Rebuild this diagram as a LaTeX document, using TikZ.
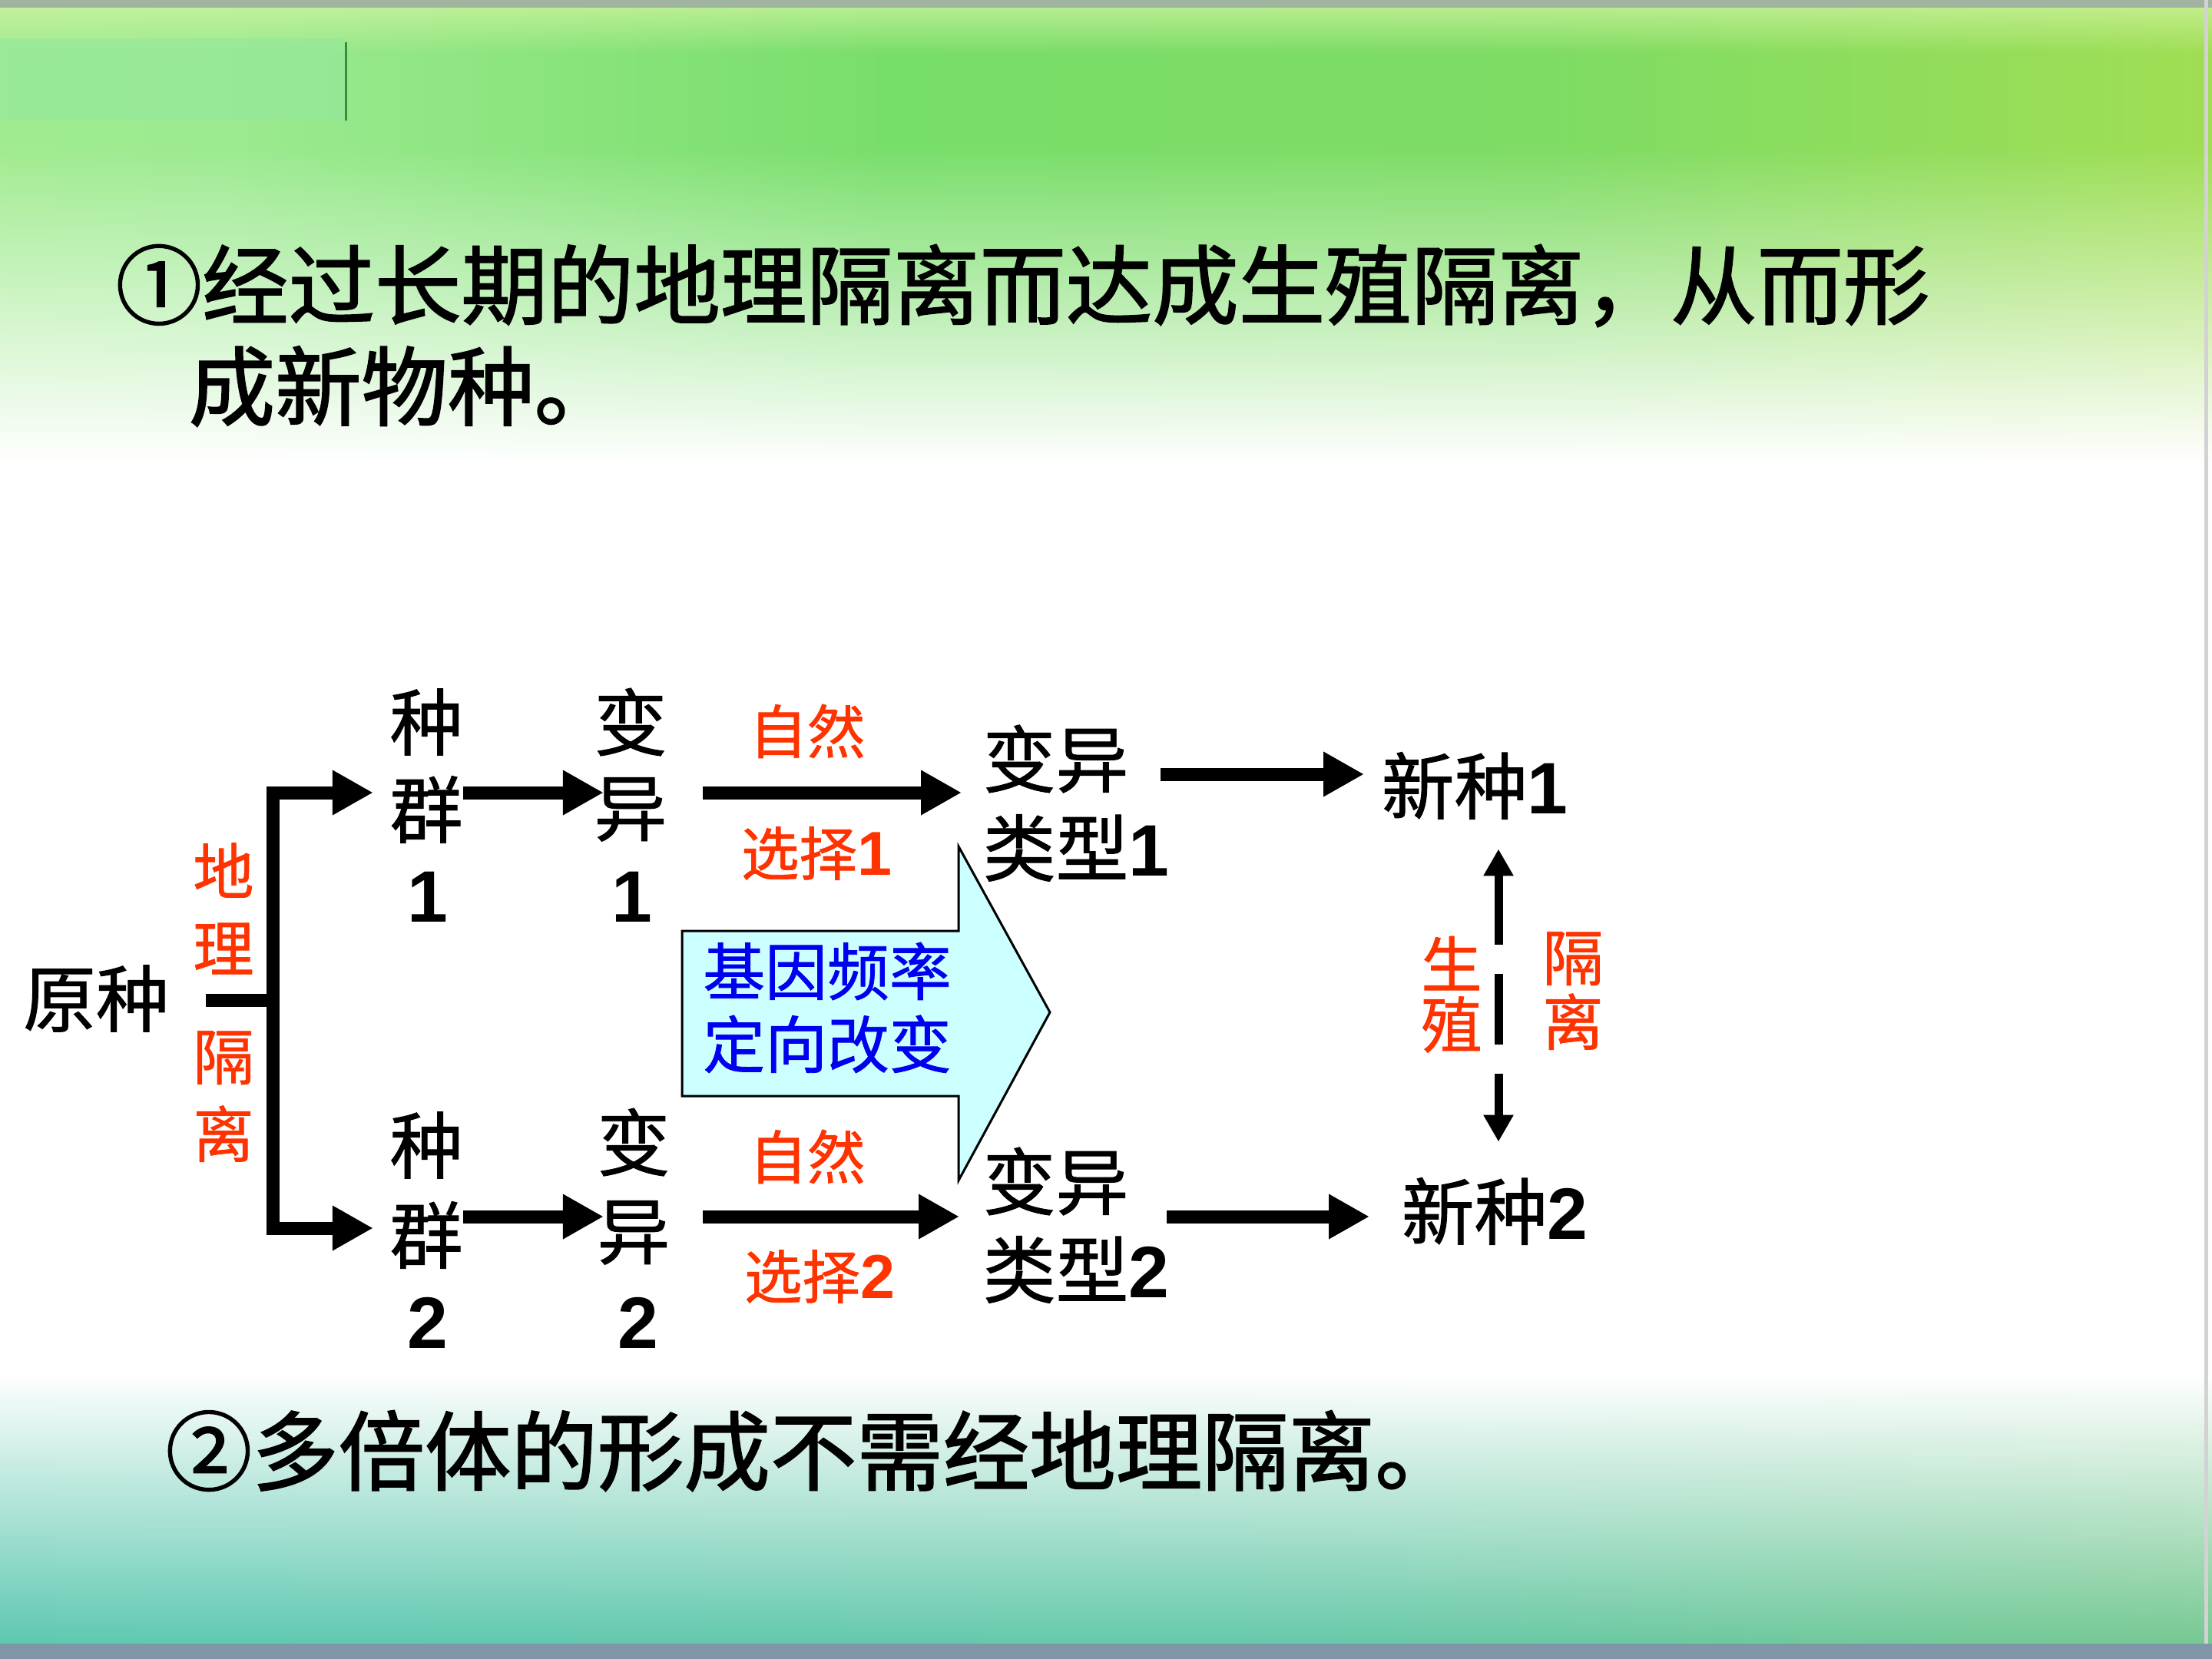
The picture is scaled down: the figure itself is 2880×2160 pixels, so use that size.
\documentclass[tikz,border=0pt]{standalone}
\usepackage{fontspec}
\usetikzlibrary{arrows.meta,fadings}
\newfontfamily\cjk{Noto Sans CJK SC}[FakeBold=1.0]
\newfontfamily\cjkt{Noto Sans CJK SC}[FakeBold=1.6]
\newfontfamily\arialf{Liberation Sans}
\definecolor{redt}{RGB}{255,51,0}
\definecolor{bluet}{RGB}{0,0,240}
\definecolor{cyanf}{RGB}{204,255,255}
\definecolor{tA}{RGB}{184,240,136}
\definecolor{tB}{RGB}{170,238,142}
\definecolor{tC}{RGB}{156,234,144}
\definecolor{tD}{RGB}{120,222,106}
\definecolor{tE}{RGB}{126,220,100}
\definecolor{tF}{RGB}{160,222,84}
\definecolor{tG}{RGB}{190,224,64}
\definecolor{tH}{RGB}{198,230,80}
\definecolor{bA}{RGB}{88,196,168}
\definecolor{bB}{RGB}{92,200,176}
\definecolor{bC}{RGB}{100,200,168}
\definecolor{bD}{RGB}{116,200,144}
\definecolor{bE}{RGB}{128,204,112}
\definecolor{bF}{RGB}{116,200,100}
\definecolor{rectg}{RGB}{148,232,156}
\definecolor{lineg}{RGB}{60,140,60}
\definecolor{topstrip}{RGB}{160,180,160}
\definecolor{botstrip}{RGB}{126,150,166}
\definecolor{lightband}{RGB}{208,244,160}
\pgfdeclarehorizontalshading{topbg}{100bp}{color(0bp)=(tA); color(15bp)=(tB); color(30bp)=(tC); color(45bp)=(tD); color(60bp)=(tE); color(75bp)=(tF); color(88bp)=(tG); color(100bp)=(tH)}
\pgfdeclarehorizontalshading{botbg}{100bp}{color(0bp)=(bA); color(30bp)=(bB); color(55bp)=(bC); color(75bp)=(bD); color(90bp)=(bE); color(100bp)=(bF)}
\tikzfading[name=fadedown, top color=transparent!100, bottom color=transparent!0]
\tikzfading[name=fadeup, top color=transparent!0, bottom color=transparent!100]
\tikzset{
  blk/.style={font=\cjk\fontsize{27}{30}\selectfont, inner sep=0pt, text=black},
  num/.style={font=\arialf\bfseries\fontsize{27}{30}\selectfont, inner sep=0pt, text=black},
  redlab/.style={font=\cjk\fontsize{21.5}{25}\selectfont, inner sep=0pt, text=redt},
  redcol/.style={font=\cjk\fontsize{22.5}{25}\selectfont, inner sep=0pt, text=redt},
  bluelab/.style={font=\cjk\fontsize{23}{27}\selectfont, inner sep=0pt, text=bluet, align=center},
  titletext/.style={font=\cjkt\fontsize{32}{36}\selectfont, inner sep=0pt, anchor=west},
  arr/.style={line width=1.7mm, line join=miter, -{Triangle[length=5.3mm,width=5.5mm]}},
  thk/.style={line width=1.7mm},
  dblarr/.style={line width=1.1mm, dash pattern=on 9.2mm off 3.8mm,
     {Triangle[length=3.5mm,width=3.7mm]}-{Triangle[length=3.5mm,width=3.7mm]}},
}
\begin{document}
\begin{tikzpicture}[x=0.1mm,y=-0.1mm]
\useasboundingbox (0,0) rectangle (2880,2160);
% ---------- background ----------
\fill[white] (0,0) rectangle (2880,2160);
\fill[shading=topbg] (0,0) rectangle (2880,600);
\fill[lightband, path fading=fadeup, opacity=0.7] (0,10) rectangle (2880,70);
\fill[rectg, opacity=0.6] (0,50) rectangle (450,157);
\draw[lineg, line width=0.3mm] (450,55) -- (450,157);
\fill[white, path fading=fadedown] (0,190) rectangle (2880,602);
\fill[topstrip] (0,0) rectangle (2880,10);
\fill[shading=botbg] (0,1790) rectangle (2880,2145);
\fill[white, path fading=fadeup] (0,1789) rectangle (2880,2146);
\fill[botstrip] (0,2140) rectangle (2880,2160);
\draw[gray!35, line width=0.5mm] (2872,0) -- (2872,2140);
% ---------- titles ----------
\node[titletext] (t1) at (150,372) {①经过长期的地理隔离而达成生殖隔离，从而形};
\node[titletext] (t2) at (245,503) {成新物种。};
\node[titletext] (t3) at (215,1889) {②多倍体的形成不需经地理隔离。};
% ---------- diagram nodes ----------
\node[blk] (yuan) at (125,1300) {原种};
\node[redcol] (di) at (291,1133) {地};
\node[redcol] (li) at (291,1235) {理};
\node[redcol] (ge) at (291,1377) {隔};
\node[redcol] (lii) at (291,1476) {离};
\node[blk] (z1) at (555,940) {种};
\node[blk] (q1) at (555,1054) {群};
\node[num] (n1) at (557,1168) {1};
\node[blk] (b1) at (821,940) {变};
\node[blk] (y1) at (821,1054) {异};
\node[num] (m1) at (823,1168) {1};
\node[redlab] (zr1) at (1051,952) {自然};
\node[redlab] (sel1) at (1063,1111) {选择{\arialf\bfseries\fontsize{23}{25}\selectfont 1}};
\node[blk, anchor=west] (vt1) at (1279,988) {变异};
\node[blk, anchor=west] (lt1) at (1279,1104) {类型{\arialf\bfseries 1}};
\node[blk, anchor=west] (xin1) at (1798,1023) {新种{\arialf\bfseries 1}};
\node[blk] (z2) at (555,1491) {种};
\node[blk] (q2) at (555,1608) {群};
\node[num] (n2) at (557,1722) {2};
\node[blk] (b2) at (825,1487) {变};
\node[blk] (y2) at (825,1605) {异};
\node[num] (m2) at (831,1722) {2};
\node[redlab] (zr2) at (1051,1506) {自然};
\node[redlab] (sel2) at (1067,1662) {选择{\arialf\bfseries\fontsize{23}{25}\selectfont 2}};
\node[blk, anchor=west] (vb2) at (1279,1538) {变异};
\node[blk, anchor=west] (lb2) at (1279,1653) {类型{\arialf\bfseries 2}};
\node[blk, anchor=west] (xin2) at (1824,1577) {新种{\arialf\bfseries 2}};
\node[redcol] (sz) at (1890,1254) {生};
\node[redcol] (zh) at (1890,1334) {殖};
\node[redcol] (gl) at (2048,1248) {隔};
\node[redcol] (ll) at (2048,1330) {离};
% ---------- big block arrow ----------
\draw[fill=cyanf, line width=0.3mm, line join=miter] (888,1212) -- (1248,1212) -- (1248,1102) -- (1367,1318) -- (1248,1537) -- (1248,1427) -- (888,1427) -- cycle;
\node[bluelab] (gene) at (1077,1312) {基因频率\\定向改变};
% ---------- connectors ----------
\coordinate (split) at (355,1302);
\coordinate (bt) at (355,1032);
\coordinate (bb) at (355,1599);
\coordinate (r1) at (0,1008);
\coordinate (rb) at (0,1584);
\coordinate (rx) at (1951,0);
\draw[thk, shorten <=4.7mm] (yuan.east |- split) -- (split);
\draw[arr, shorten >=2.1mm] (split) -- (bt) -- (q1.west |- bt);
\draw[arr, shorten >=2.1mm] (split) -- (bb) -- (q2.west |- bb);
\draw[arr, shorten >=-1.3mm] (q1.east |- bt) -- (y1.west |- bt);
\draw[arr, shorten <=4.6mm, shorten >=2.7mm] (y1.east |- bt) -- (vt1.west |- bt);
\draw[arr, shorten <=4.1mm, shorten >=2.2mm] (vt1.east |- r1) -- (xin1.west |- r1);
\draw[arr, shorten >=-0.9mm] (q2.east |- rb) -- (y2.west |- rb);
\draw[arr, shorten <=4.2mm, shorten >=3.0mm] (y2.east |- rb) -- (vb2.west |- rb);
\draw[arr, shorten <=4.9mm, shorten >=4.1mm] (vb2.east |- rb) -- (xin2.west |- rb);
\draw[dblarr, shorten <=3.8mm, shorten >=4.6mm] (xin1.south -| rx) -- (xin2.north -| rx);
\end{tikzpicture}
\end{document}
